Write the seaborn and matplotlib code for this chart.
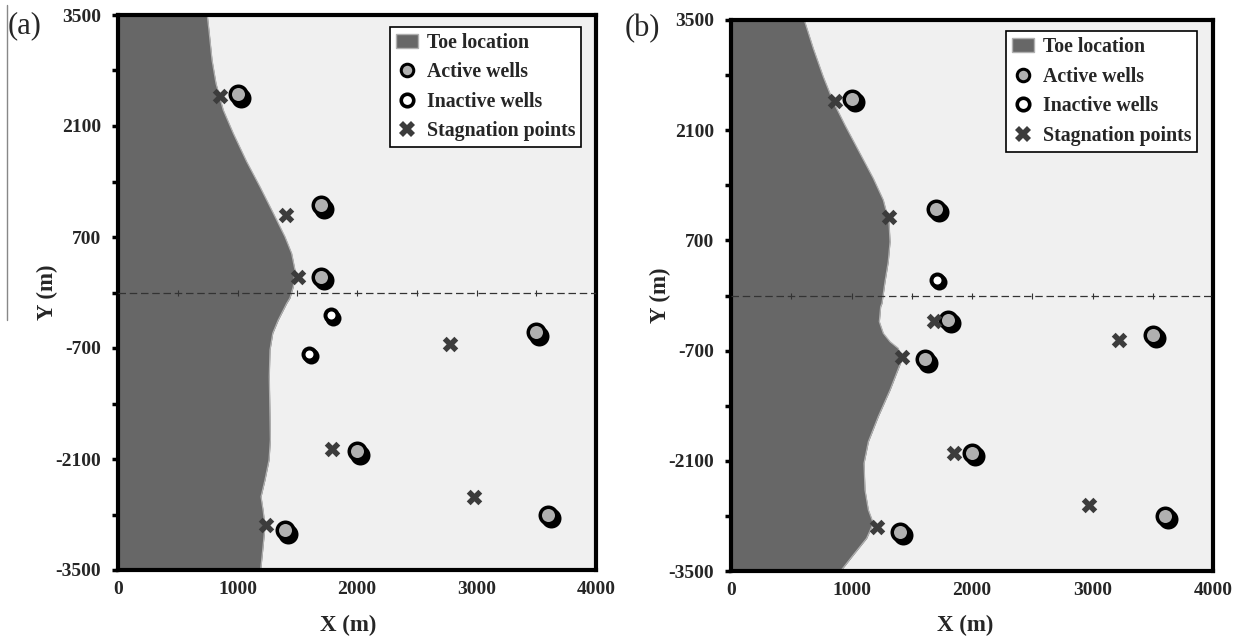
import matplotlib
matplotlib.use('Agg')
import matplotlib.pyplot as plt
from matplotlib.lines import Line2D
from matplotlib.patches import Patch
from matplotlib.transforms import ScaledTranslation
import seaborn as sns

sns.set_style('white')
plt.rcParams['font.family'] = ['Liberation Serif']
plt.rcParams['font.weight'] = 'bold'
plt.rcParams['axes.unicode_minus'] = False

# toe boundary
toe_a_x = [747, 764, 787, 820, 881, 965, 1077, 1188, 1300, 1397, 1453, 1481, 1467, 1439, 1412, 1341, 1295, 1272, 1266, 1272, 1275, 1264, 1230, 1197, 1216, 1230, 1211, 1194]
toe_a_y = [3500, 3268, 2932, 2638, 2301, 2007, 1650, 1334, 999, 704, 494, 284, 73, -69, -136, -347, -514, -725, -1062, -1566, -1860, -2112, -2364, -2575, -2764, -2953, -3247, -3500]
toe_b_x = [608, 683, 766, 849, 946, 1056, 1181, 1264, 1311, 1320, 1305, 1278, 1253, 1242, 1231, 1264, 1320, 1388, 1417, 1320, 1222, 1140, 1104, 1112, 1140, 1181, 1126, 1015, 910]
toe_b_y = [3500, 3139, 2779, 2461, 2165, 1848, 1488, 1213, 937, 683, 429, 175, -99, -142, -333, -480, -587, -671, -819, -1200, -1539, -1857, -2131, -2470, -2724, -2893, -3084, -3296, -3500]

active_a_x = [1000, 1700, 1700, 3500, 2000, 1400, 3600]
active_a_y = [2500, 1100, 200, -500, -2000, -3000, -2800]
inactive_a_x = [1785, 1600]
inactive_a_y = [-290, -775]
stag_a_x = [854, 1405, 1506, 2778, 1790, 2979, 1238]
stag_a_y = [2480, 978, 196, -650, -1975, -2580, -2930]

active_b_x = [1005, 1705, 1803, 1610, 3500, 2000, 1400, 3600]
active_b_y = [2500, 1100, -310, -810, -500, -2000, -3000, -2800]
inactive_b_x = [1707]
inactive_b_y = [197]
stag_b_x = [863, 1311, 1685, 1419, 3220, 1851, 2971, 1212]
stag_b_y = [2470, 995, -325, -780, -565, -2000, -2660, -2940]

y_labels = [-3500, -2100, -700, 700, 2100, 3500]
y_minor = [-2800, -1400, 0, 1400, 2800]
x_labels = [0, 1000, 2000, 3000, 4000]
line_ticks = [500, 1000, 1500, 2000, 2500, 3000, 3500]
legend_names = ['Toe location', 'Active wells', 'Inactive wells', 'Stagnation points']


def px_size(d):
    # scatter area for a disc of d pixels at 100 dpi
    return (d * 0.72) ** 2


def panel(ax, toe_x, toe_y, act_x, act_y, ina_x, ina_y, st_x, st_y, leg_pos, xlab_x):
    ax.set_facecolor('#f0f0f0')
    ax.fill_betweenx(toe_y, 0, toe_x, color='#676767', lw=0, zorder=1)
    sns.lineplot(x=toe_x, y=toe_y, sort=False, estimator=None, color='#b0b0b0', lw=0.9, ax=ax, zorder=2)

    # dashed line along y=0 with the little ticks on it
    ax.axhline(0, color='#333333', lw=0.9, ls=(0, (6, 3)), zorder=3)
    sns.scatterplot(x=line_ticks, y=[0] * len(line_ticks), marker='|', s=22, color='#333333', linewidth=0.8, ax=ax, zorder=3)

    # wells: a black disc, a second one shifted down-right, then the centre
    shift = ax.transData + ScaledTranslation(3 / 100, -3.5 / 100, ax.figure.dpi_scale_trans)
    sns.scatterplot(x=act_x, y=act_y, s=px_size(20), color='black', linewidth=0, ax=ax, zorder=4)
    sns.scatterplot(x=act_x, y=act_y, s=px_size(20), color='black', linewidth=0, transform=shift, ax=ax, zorder=4)
    sns.scatterplot(x=act_x, y=act_y, s=px_size(13), color='#b0b0b0', linewidth=0, ax=ax, zorder=5)
    shift2 = ax.transData + ScaledTranslation(2 / 100, -2.5 / 100, ax.figure.dpi_scale_trans)
    sns.scatterplot(x=ina_x, y=ina_y, s=px_size(16), color='black', linewidth=0, ax=ax, zorder=4)
    sns.scatterplot(x=ina_x, y=ina_y, s=px_size(16), color='black', linewidth=0, transform=shift2, ax=ax, zorder=4)
    sns.scatterplot(x=ina_x, y=ina_y, s=px_size(8), color='white', linewidth=0, ax=ax, zorder=5)
    sns.scatterplot(x=st_x, y=st_y, marker='X', s=125, color='#3c3c3c', linewidth=0, ax=ax, zorder=6)

    ax.set_xlim(0, 4000)
    ax.set_ylim(-3500, 3500)
    ax.set_xticks(x_labels)
    ax.set_yticks(y_labels)
    ax.set_yticks(y_minor, minor=True)
    ax.tick_params(axis='x', length=0, labelsize=14, pad=8)
    ax.tick_params(axis='y', which='major', left=True, length=4, width=2.5, labelsize=14, pad=8, color='black')
    ax.tick_params(axis='y', which='minor', left=True, length=4, width=2.5, color='black')
    ax.set_xlabel('X (m)', fontsize=16.5, fontweight='bold')
    ax.xaxis.set_label_coords(xlab_x, -0.08)
    ax.set_ylabel('Y (m)', fontsize=16.5, fontweight='bold')
    ax.yaxis.set_label_coords(-0.125, 0.50)
    for name, s in ax.spines.items():
        s.set_visible(True)
        s.set_color('black')
        s.set_linewidth(3)

    handles = [
        Patch(facecolor='#676767', edgecolor='#b0b0b0'),
        Line2D([], [], marker='o', ls='', ms=9, mfc='#b0b0b0', mec='black', mew=2.2),
        Line2D([], [], marker='o', ls='', ms=9, mfc='white', mec='black', mew=2.6),
        Line2D([], [], marker='X', ls='', ms=11, mfc='#3c3c3c', mec='#3c3c3c', mew=0),
    ]
    leg = ax.legend(handles, legend_names, loc='upper right', bbox_to_anchor=leg_pos, fontsize=14.3,
                    frameon=True, fancybox=False, framealpha=1, facecolor='white', edgecolor='black',
                    borderpad=0.3, labelspacing=0.48, handlelength=1.1, handletextpad=0.45, borderaxespad=0)
    leg.get_frame().set_linewidth(1.2)
    leg.set_zorder(10)


W, H = 1239, 638
fig = plt.figure(figsize=(12.39, 6.38), dpi=100)
ax1 = fig.add_axes([118 / W, 1 - 570 / H, 478 / W, 555 / H])
ax2 = fig.add_axes([731 / W, 1 - 571 / H, 482 / W, 551 / H])

panel(ax1, toe_a_x, toe_a_y, active_a_x, active_a_y, inactive_a_x, inactive_a_y, stag_a_x, stag_a_y, (0.969, 0.979), 0.481)
panel(ax2, toe_b_x, toe_b_y, active_b_x, active_b_y, inactive_b_x, inactive_b_y, stag_b_x, stag_b_y, (0.967, 0.98), 0.485)

fig.text(8 / W, 1 - 26 / H, '(a)', fontsize=22, fontweight='normal', va='center')
fig.text(625 / W, 1 - 29 / H, '(b)', fontsize=22, fontweight='normal', va='center')
fig.add_artist(Line2D([7 / W, 7 / W], [1 - 320 / H, 1 - 5 / H], color='#888888', lw=1))

fig.savefig('out.png', dpi=100)
